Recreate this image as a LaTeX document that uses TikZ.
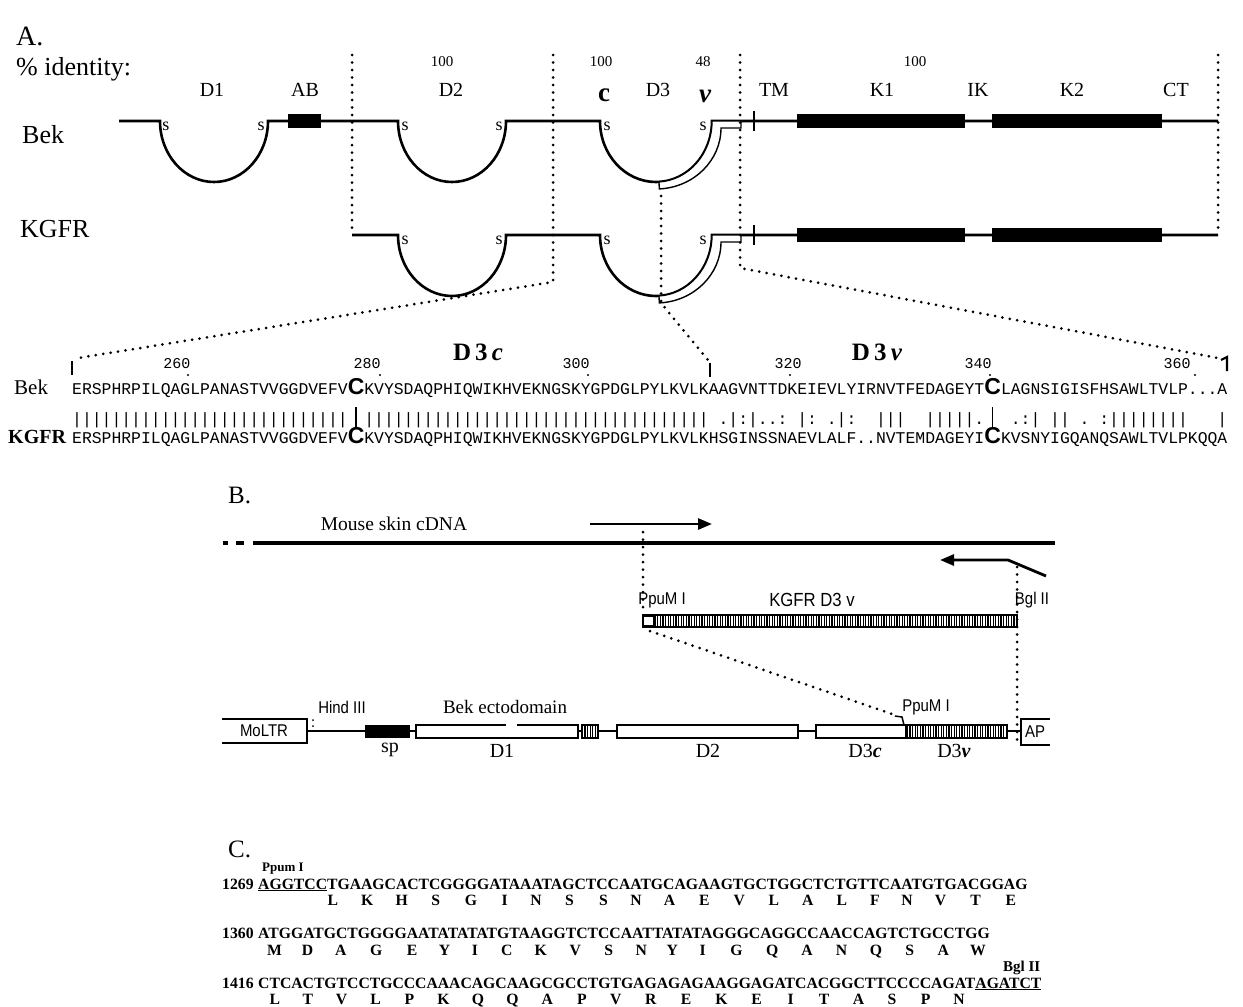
\documentclass[tikz,border=0pt]{standalone}
\usepackage{fontspec}
\usepackage{calc}
\setmainfont{Liberation Serif}
\newfontfamily\seqfont{Liberation Mono}
\newfontfamily\helvfont{Liberation Sans}
\newfontfamily\narrowfont[FakeStretch=0.88]{Liberation Sans}
\usetikzlibrary{arrows.meta,patterns.meta}

\newcommand\fsz[1]{\fontsize{#1}{#1}\selectfont}
\newcommand\bigC{{\helvfont\bfseries\fsz{23}C}}
\newcommand\longbar{\makebox[\widthof{\bigC}]{\rule[-0.3em]{1.3pt}{1.35em}}}
\newcommand\cd[2]{\makebox[\widthof{#1}]{#2}}

\begin{document}
\begin{tikzpicture}[x=1pt,y=-1pt,
  prot/.style={line width=2.6pt},
  band/.style={line width=1.4pt,fill=white},
  dotline/.style={line width=3pt,line cap=round,dash pattern=on 0pt off 7.5pt},
  wbox/.style={line width=2.1pt,fill=white},
  hatchbox/.style={line width=2.1pt,fill=white,
    postaction={pattern={Lines[angle=90,distance=2.6pt,line width=1.1pt]}}},
  txt/.style={inner sep=0pt},
  seq/.style={inner sep=0pt,anchor=base west,font=\seqfont\fsz{16.4}},
  nt/.style={inner sep=0pt,anchor=base west,font=\bfseries\fsz{15.7}},
  narrow/.style={inner sep=0pt,font=\narrowfont\fsz{17}}]
\useasboundingbox (0,0) rectangle (1243,1007);

% ---------------- A: domain maps ----------------
\node[txt,anchor=base west,font=\fsz{28}] (hA) at (16,45) {A.};
\node[txt,anchor=base west,font=\fsz{26}] (ident) at (16,75) {\% identity:};
\foreach \v/\x [count=\i] in {100/442,100/601,48/703,100/915}
  \node[txt,font=\fsz{15}] (pct-\i) at (\x,62) {\v};
\foreach \t/\x in {D1/212,AB/305,D2/451,D3/658,TM/774,K1/882,IK/978,K2/1072,CT/1176}
  \node[txt,font=\fsz{20}] (dom-\t) at (\x,90) {\t};
\node[txt,font=\bfseries\fsz{27}] (dom-c) at (604,95) {c};
\node[txt,font=\bfseries\itshape\fsz{27}] (dom-v) at (705,96) {ν};
\node[txt,anchor=west,font=\fsz{26}] (row-bek) at (22,135) {Bek};
\node[txt,anchor=west,font=\fsz{26}] (row-kgfr) at (20,229) {KGFR};

% backbones with Ig loops
\draw[prot] (119,121) -- (160,121) arc[start angle=180,end angle=0,x radius=54,y radius=61]
  -- (398,121) arc[start angle=180,end angle=0,x radius=54,y radius=61]
  -- (600,121) arc[start angle=180,end angle=0,x radius=56,y radius=61] -- (1218,121);
\draw[prot] (352,235) -- (398,235) arc[start angle=180,end angle=0,x radius=54,y radius=61]
  -- (600,235) arc[start angle=180,end angle=0,x radius=56,y radius=61] -- (1218,235);
\fill (288,114) rectangle (321,128);
\foreach \yy in {121,235}{
  \draw[band] ([shift={(87:56 and 61)}]656,\yy) arc[start angle=87,end angle=0,x radius=56,y radius=61]
    -- (741,\yy) -- (741,\yy+7) -- (721,\yy+7)
    arc[start angle=0,end angle=87,x radius=65,y radius=61] -- cycle;
  \draw[line width=2.2pt] (754,\yy-10) -- (754,\yy+10);
  \fill (797,\yy-7) rectangle (965,\yy+7);
  \fill (992,\yy-7) rectangle (1162,\yy+7);
}
\foreach \x [count=\i] in {166,261,405,499,607,703}
  \node[txt,font=\fsz{18}] (sb-\i) at (\x,126) {s};
\foreach \x [count=\i] in {405,499,607,703}
  \node[txt,font=\fsz{18}] (sk-\i) at (\x,240) {s};

% cut lines
\coordinate (c1t) at (352,55);  \coordinate (c1b) at (352,235);
\coordinate (c2t) at (553,55);  \coordinate (c2b) at (553,282);
\coordinate (c3t) at (740,55);  \coordinate (c3b) at (740,268);
\coordinate (c4t) at (1218,55); \coordinate (c4b) at (1218,235);
\coordinate (c5t) at (661,196); \coordinate (c5b) at (661,303);
\coordinate (tk1) at (78,358);  \coordinate (tk2) at (708,360); \coordinate (tk3) at (1218,358);
\draw[dotline] (c1t) -- (c1b);
\draw[dotline] (c2t) -- (c2b) -- (tk1);
\draw[dotline] (c3t) -- (c3b) -- (tk3);
\draw[dotline] (c4t) -- (c4b);
\draw[dotline] (c5t) -- (c5b) -- (tk2);
\draw[line width=2.4pt] (72,361) -- (72,375);
\draw[line width=2.4pt] (710,363) -- (710,377);
\draw[line width=2.2pt] (1221,360) -- (1227,357) -- (1227,371);

% ---------------- A: alignment ----------------
\foreach \n/\x/\d in {260/177/188,280/367/380,300/576/588,320/788/790,340/978/990,360/1177/1195}{
  \node[txt,font=\seqfont\fsz{15}] (num-\n) at (\x,364) {\n};
  \fill (\d,375) circle (1.2);
}
\node[txt,font=\bfseries\fsz{25}] (lbl-d3c) at (478,352) {D\,3\,\textit{c}};
\node[txt,font=\bfseries\fsz{25}] (lbl-d3v) at (877,352) {D\,3\,\textit{ν}};
\node[txt,anchor=base west,font=\fsz{21}] (lbl-bek) at (14,394) {Bek};
\node[txt,anchor=base west,font=\bfseries\fsz{20}] (lbl-kgfr) at (8,443) {KGFR};
\node[seq] (seq-bek) at (72,394)
  {ERSPHRPILQAGLPANASTVVGGDVEFV\bigC KVYSDAQPHIQWIKHVEKNGSKYGPDGLPYLKVLKAAGVNTTDKEIEVLYIRNVTFEDAGEYT\bigC LAGNSIGISFHSAWLTVLP...A};
\node[seq] (seq-bar) at (72,424)
  {||||||||||||||||||||||||||||\longbar|||||||||||||||||||||||||||||||||||~.|:|..:~|:~.|:~~|||~~|||||.\longbar~.:|~||~.~:||||||||~~~|};
\node[seq] (seq-kgfr) at (72,443)
  {ERSPHRPILQAGLPANASTVVGGDVEFV\bigC KVYSDAQPHIQWIKHVEKNGSKYGPDGLPYLKVLKHSGINSSNAEVLALF..NVTEMDAGEYI\bigC KVSNYIGQANQSAWLTVLPKQQA};

% ---------------- B: construct ----------------
\node[txt,anchor=base west,font=\fsz{25}] (hB) at (228,503) {B.};
\node[txt,font=\fsz{19.5}] (cdna-lbl) at (394,524) {Mouse skin cDNA};
\draw[line width=4.4pt] (223,543) -- (228,543) (236,543) -- (244,543) (253,543) -- (1055,543);
\coordinate (fw-s) at (590,524); \coordinate (fw-e) at (712,524);
\coordinate (rv-s) at (1046,576); \coordinate (rv-m) at (1008,560); \coordinate (rv-e) at (940,560);
\draw[line width=2.8pt,-{Triangle[length=14pt,width=11pt]}] (fw-s) -- (fw-e);
\draw[line width=2.8pt,-{Triangle[length=14pt,width=11pt]}] (rv-s) -- (rv-m) -- (rv-e);
\node[narrow] (ppu-top) at (662,600) {PpuM I};
\node[narrow,font=\narrowfont\fsz{19}] (d3v-lbl) at (812,600) {KGFR D3 v};
\node[narrow] (bgl-top) at (1032,600) {Bgl II};
\draw[hatchbox] (643,615) rectangle (1017,627);
\draw[wbox,line width=1.5pt] (643,616) rectangle (654,626);
\coordinate (pp1) at (643,532); \coordinate (pp2) at (643,612);
\coordinate (bg1) at (1017,567); \coordinate (bg2) at (1017,746);
\coordinate (pp3) at (650,631); \coordinate (pp4) at (892,714);
\draw[dotline] (pp1) -- (pp2);
\draw[dotline] (bg1) -- (bg2);
\draw[dotline] (pp3) -- (pp4);
\draw[line width=1.5pt] (895,716) -- (902,717) -- (904,725);

\draw[line width=1.6pt] (307,731) -- (1021,731);
\draw[line width=2.1pt] (222,719) -- (307,719) -- (307,743) -- (222,743);
\node[narrow] (moltr) at (264,731) {MoLTR};
\draw[line width=2.1pt] (1050,719) -- (1021,719) -- (1021,745) -- (1050,745);
\node[narrow] (ap) at (1035,732) {AP};
\node[narrow] (hind) at (342,707) {Hind III};
\draw[dotline,line width=2pt,dash pattern=on 0pt off 6pt] (313,720) -- (313,727);
\fill (365,725) rectangle (410,738);
\draw[wbox] (416,725) rectangle (578,738);
\draw[white,line width=3pt] (506,725) -- (517,725);
\draw[hatchbox] (582,725) rectangle (598,738);
\draw[wbox] (617,725) rectangle (798,738);
\draw[wbox] (816,725) rectangle (906,738);
\draw[hatchbox] (906,725) rectangle (1007,738);
\node[txt,font=\fsz{19}] (ecto) at (505,707) {Bek ectodomain};
\node[narrow] (ppu-bot) at (926,707) {PpuM I};
\node[txt,font=\fsz{20}] (c-sp) at (390,750) {sp};
\node[txt,font=\fsz{20}] (c-d1) at (502,751) {D1};
\node[txt,font=\fsz{20}] (c-d2) at (708,751) {D2};
\node[txt,font=\fsz{20}] (c-d3c) at (865,751) {D3\textbf{\textit{c}}};
\node[txt,font=\fsz{20}] (c-d3v) at (954,751) {D3\textbf{\textit{ν}}};

% ---------------- C: sequence ----------------
\node[txt,anchor=base west,font=\fsz{25}] (hC) at (228,857) {C.};
\node[txt,anchor=base west,font=\bfseries\fsz{13}] (ppum-c) at (262,871) {Ppum I};
\node[txt,anchor=base west,font=\bfseries\fsz{15}] (bgl-c) at (1003,971) {Bgl II};
\node[nt] (num-1269) at (222,889) {1269};
\node[nt] (nt-1269) at (258,889)
  {\underline{AGGTCC}TGAAGCACTCGGGGATAAATAGCTCCAATGCAGAAGTGCTGGCTCTGTTCAATGTGACGGAG};
\node[nt] (aa-1269) at (258,905)
  {\hphantom{AGGTC}\cd{CTG}{L}\cd{AAG}{K}\cd{CAC}{H}\cd{TCG}{S}\cd{GGG}{G}\cd{ATA}{I}\cd{AAT}{N}%
   \cd{AGC}{S}\cd{TCC}{S}\cd{AAT}{N}\cd{GCA}{A}\cd{GAA}{E}\cd{GTG}{V}\cd{CTG}{L}\cd{GCT}{A}%
   \cd{CTG}{L}\cd{TTC}{F}\cd{AAT}{N}\cd{GTG}{V}\cd{ACG}{T}\cd{GAG}{E}};
\node[nt] (num-1360) at (222,938) {1360};
\node[nt] (nt-1360) at (258,938)
  {ATGGATGCTGGGGAATATATATGTAAGGTCTCCAATTATATAGGGCAGGCCAACCAGTCTGCCTGG};
\node[nt] (aa-1360) at (258,955)
  {\cd{ATG}{M}\cd{GAT}{D}\cd{GCT}{A}\cd{GGG}{G}\cd{GAA}{E}\cd{TAT}{Y}\cd{ATA}{I}\cd{TGT}{C}%
   \cd{AAG}{K}\cd{GTC}{V}\cd{TCC}{S}\cd{AAT}{N}\cd{TAT}{Y}\cd{ATA}{I}\cd{GGG}{G}\cd{CAG}{Q}%
   \cd{GCC}{A}\cd{AAC}{N}\cd{CAG}{Q}\cd{TCT}{S}\cd{GCC}{A}\cd{TGG}{W}};
\node[nt] (num-1416) at (222,988) {1416};
\node[nt] (nt-1416) at (258,988)
  {CTCACTGTCCTGCCCAAACAGCAAGCGCCTGTGAGAGAGAAGGAGATCACGGCTTCCCCAGAT\underline{AGATCT}};
\node[nt] (aa-1416) at (258,1004)
  {\cd{CTC}{L}\cd{ACT}{T}\cd{GTC}{V}\cd{CTG}{L}\cd{CCC}{P}\cd{AAA}{K}\cd{CAG}{Q}\cd{CAA}{Q}%
   \cd{GCG}{A}\cd{CCT}{P}\cd{GTG}{V}\cd{AGA}{R}\cd{GAG}{E}\cd{AAG}{K}\cd{GAG}{E}\cd{ATC}{I}%
   \cd{ACG}{T}\cd{GCT}{A}\cd{TCC}{S}\cd{CCA}{P}\cd{GAT}{N}};
\end{tikzpicture}
\end{document}
